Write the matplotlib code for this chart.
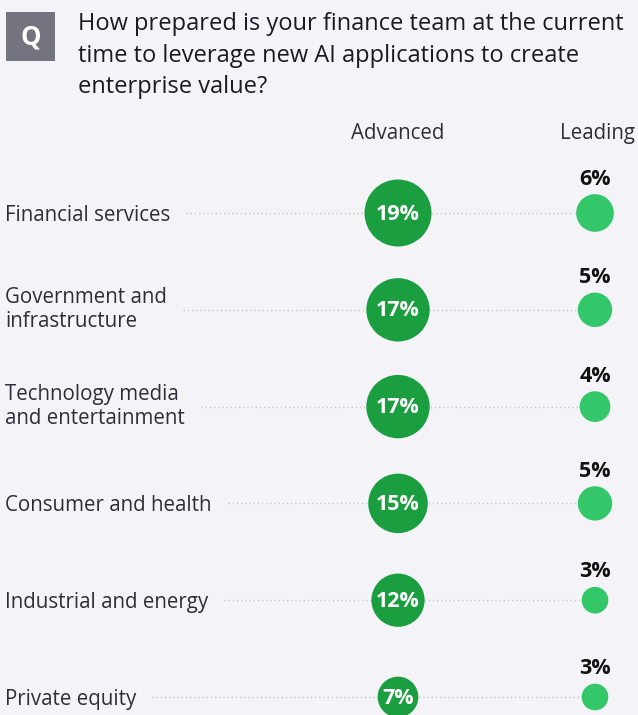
import numpy as np
import matplotlib
matplotlib.use("Agg")
import matplotlib.pyplot as plt
from matplotlib.patches import Circle, Rectangle

# survey data: share of finance teams by readiness, per sector (%)
sectors = ["Financial services", "Government and\ninfrastructure",
           "Technology media\nand entertainment", "Consumer and health",
           "Industrial and energy", "Private equity"]
advanced = [19, 17, 17, 15, 12, 7]
leading = [6, 5, 4, 5, 3, 3]
columns = ["Advanced", "Leading"]
question = ["How prepared is your finance team at the current",
            "time to leverage new AI applications to create",
            "enterprise value?"]

BG = "#f4f4f8"
DARK = "#1a9e3f"
LIGHT = "#33c76a"
INK = "#2e2e38"
FONT = ["Open Sans", "DejaVu Sans"]

W, H = 638, 715
fig = plt.figure(figsize=(W / 100, H / 100), dpi=100, facecolor=BG)
ax = fig.add_axes([0, 0, 1, 1])
ax.set_xlim(0, W)
ax.set_ylim(H, 0)
ax.set_aspect("equal")
ax.axis("off")
ax.set_facecolor(BG)

# question header
ax.add_patch(Rectangle((6, 12), 49, 49, color="#747480", lw=0))
ax.text(30.5, 37, "Q", color="white", fontsize=18.5, fontweight="bold",
        ha="center", va="center", family=FONT)
for i, line in enumerate(question):
    ax.text(78, 30 + 31.5 * i, line, fontsize=17, color="#1a1a24",
            va="baseline", ha="left", family=FONT)

x_adv, x_lead = 398, 595
row_y0, row_step = 213, 96.8
ys = row_y0 + row_step * np.arange(len(sectors))

ax.text(x_adv, 133.5, columns[0], fontsize=14.8, color=INK, ha="center",
        va="center", family=FONT)
ax.text(x_lead + 2, 133.5, columns[1], fontsize=14.8, color=INK, ha="center",
        va="center", family=FONT)

# circle area proportional to value
r_max = 33.5
def radius(v):
    return r_max * np.sqrt(v / max(advanced))

fig.canvas.draw()
rend = fig.canvas.get_renderer()
inv = ax.transData.inverted()

for y, name, a, l in zip(ys, sectors, advanced, leading):
    two = "\n" in name
    t = ax.text(5, y + (0 if two else 2.5), name, fontsize=14.8, color=INK,
                ha="left", va="center", linespacing=1.2, family=FONT)
    bb = t.get_window_extent(renderer=rend)
    x_end = inv.transform((bb.x1, bb.y0))[0]
    ax.plot([x_end + 16, x_lead], [y, y], color="#c4c4cc", lw=1,
            ls=(0, (1, 2)), zorder=1)
    ra, rl = radius(a), radius(l)
    ax.add_patch(Circle((x_adv, y), ra, color=DARK, lw=0, zorder=2))
    ax.text(x_adv, y + 1, f"{a}%", color="white", fontsize=15.5, fontweight="bold",
            ha="center", va="center", zorder=3, family=FONT)
    ax.add_patch(Circle((x_lead, y), rl, color=LIGHT, lw=0, zorder=2))
    ax.text(x_lead, y - rl - 15, f"{l}%", color="#111111", fontsize=15.5,
            fontweight="bold", ha="center", va="center", zorder=3, family=FONT)

fig.savefig("out.png", dpi=100, facecolor=BG)
